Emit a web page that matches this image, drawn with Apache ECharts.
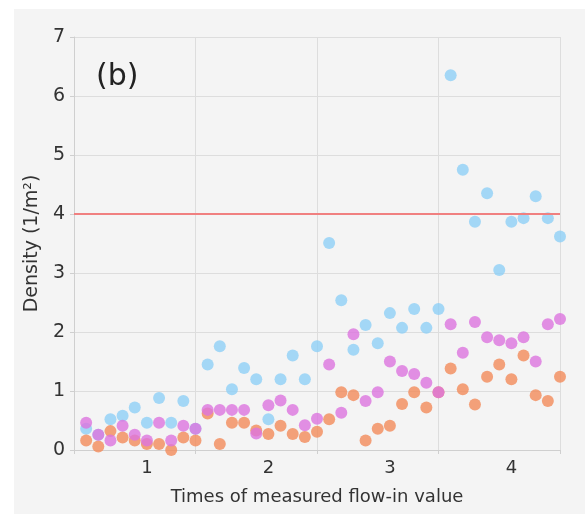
<!DOCTYPE html>
<html>
<head>
<meta charset="utf-8">
<script src="https://cdn.jsdelivr.net/npm/echarts@6/dist/echarts.min.js"></script>
<style>
  html, body { margin: 0; padding: 0; background: #fff; }
  #chart { width: 585px; height: 514px; }
</style>
</head>
<body>
<div id="chart"></div>
<script>
// times of measured flow-in value
const xs = [0.5, 0.6, 0.7, 0.8, 0.9, 1.0, 1.1, 1.2, 1.3, 1.4,
            1.5, 1.6, 1.7, 1.8, 1.9, 2.0, 2.1, 2.2, 2.3, 2.4,
            2.5, 2.6, 2.7, 2.8, 2.9, 3.0, 3.1, 3.2, 3.3, 3.4,
            3.5, 3.6, 3.7, 3.8, 3.9, 4.0, 4.1, 4.2, 4.3, 4.4]

const blueVals = [0.36, 0.26, 0.52, 0.58, 0.72, 0.46, 0.88, 0.46, 0.83, 0.36,
                  1.45, 1.76, 1.03, 1.39, 1.20, 0.52, 1.20, 1.60, 1.20, 1.76,
                  3.51, 2.54, 1.70, 2.12, 1.81, 2.32, 2.07, 2.39, 2.07, 2.39,
                  6.35, 4.75, 3.87, 4.35, 3.05, 3.87, 3.93, 4.30, 3.93, 3.62]
const violetVals = [0.46, 0.26, 0.16, 0.41, 0.26, 0.16, 0.46, 0.16, 0.41, 0.36,
                    0.68, 0.68, 0.68, 0.68, 0.28, 0.76, 0.84, 0.68, 0.42, 0.53,
                    1.45, 0.63, 1.96, 0.83, 0.98, 1.50, 1.34, 1.29, 1.14, 0.98,
                    2.13, 1.65, 2.17, 1.91, 1.86, 1.81, 1.91, 1.50, 2.13, 2.22]
const orangeVals = [0.16, 0.06, 0.32, 0.21, 0.16, 0.10, 0.10, 0.00, 0.21, 0.16,
                    0.62, 0.10, 0.46, 0.46, 0.33, 0.27, 0.41, 0.27, 0.22, 0.31,
                    0.52, 0.98, 0.93, 0.16, 0.36, 0.41, 0.78, 0.98, 0.72, 0.98,
                    1.38, 1.03, 0.77, 1.24, 1.45, 1.20, 1.60, 0.93, 0.83, 1.24]

const xLabels = [1, 2, 3, 4]
const limitValue = 4

const pairs = vals => xs.map((x, i) => [x, vals[i]])

const chart = echarts.init(document.getElementById('chart'))
const font = 'DejaVu Sans'

chart.setOption({
  backgroundColor: '#fff',
  animation: false,
  graphic: [
    { type: 'rect', z: -10, shape: { x: 14, y: 9, width: 571, height: 505 }, style: { fill: '#f4f4f4' } },
    { type: 'text', left: 96, top: 62, style: { text: '(b)', font: '30px "DejaVu Sans"', fill: '#222' } }
  ],
  grid: { left: 74, right: 25, top: 37, bottom: 64 },
  xAxis: {
    type: 'value', min: 0.4, max: 4.4, interval: 1,
    name: 'Times of measured flow-in value',
    nameLocation: 'middle', nameGap: 38,
    nameTextStyle: { fontFamily: font, fontSize: 18, color: '#333' },
    axisLine: { lineStyle: { color: '#cfcfcf' } },
    axisTick: { show: true, length: 4, lineStyle: { color: '#cfcfcf' } },
    axisLabel: { customValues: xLabels, fontFamily: font, fontSize: 18, color: '#333', margin: 9 },
    splitLine: { show: true, lineStyle: { color: '#dddddd' } }
  },
  yAxis: {
    type: 'value', min: 0, max: 7, interval: 1,
    name: 'Density (1/m²)',
    nameLocation: 'middle', nameGap: 30, nameRotate: 90,
    nameTextStyle: { fontFamily: font, fontSize: 19, color: '#333' },
    axisLine: { show: true, lineStyle: { color: '#cfcfcf' } },
    axisTick: { show: true, length: 4, lineStyle: { color: '#cfcfcf' } },
    axisLabel: { fontFamily: font, fontSize: 19, color: '#333', margin: 9 },
    splitLine: { show: true, lineStyle: { color: '#dddddd' } }
  },
  series: [
    {
      type: 'scatter', symbolSize: 12, data: pairs(blueVals),
      itemStyle: { color: '#8ecff6' },
      markLine: {
        silent: true, symbol: 'none', label: { show: false },
        lineStyle: { color: '#f08080', width: 2, type: 'solid' },
        data: [{ yAxis: limitValue }]
      }
    },
    { type: 'scatter', symbolSize: 12, data: pairs(orangeVals), itemStyle: { color: '#f28b5a' } },
    { type: 'scatter', symbolSize: 12, data: pairs(violetVals), itemStyle: { color: '#dc74de' } }
  ]
})
</script>
</body>
</html>
